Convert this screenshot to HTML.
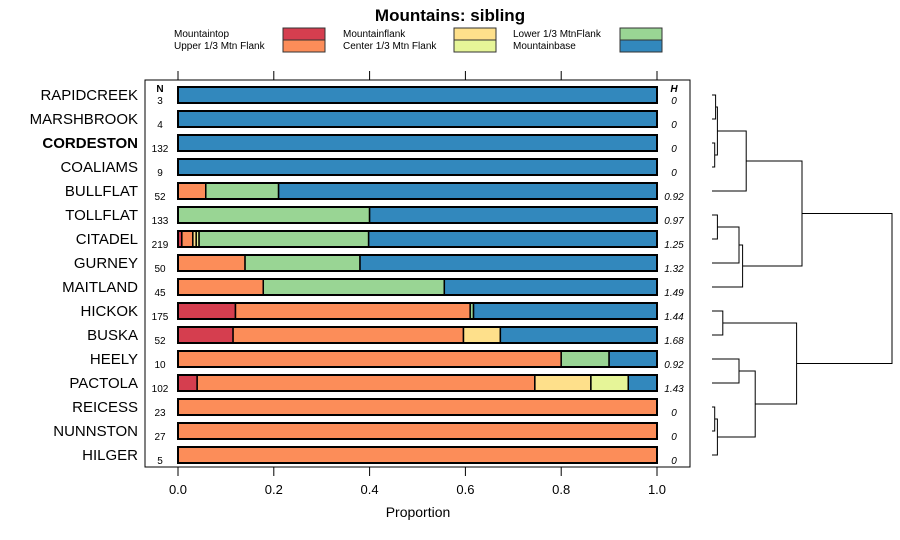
<!DOCTYPE html>
<html><head><meta charset="utf-8"><style>
body{margin:0;background:#fff}
svg{display:block;font-family:"Liberation Sans",sans-serif}
</style></head><body>
<svg id="chart" width="900" height="540" viewBox="0 0 900 540">
<text x="450" y="21" text-anchor="middle" font-size="17" font-weight="bold">Mountains: sibling</text>
<g id="legend"></g>
<rect x="145" y="80" width="545" height="387" fill="none" stroke="#000"/>
<g id="axis"></g>
<g id="bars"></g>
<g id="dendro" stroke="#000" fill="none" stroke-width="1"></g>
<text x="418" y="517" text-anchor="middle" font-size="14">Proportion</text>
<text x="160" y="92" text-anchor="middle" font-size="10" font-weight="bold">N</text>
<text x="674" y="92" text-anchor="middle" font-size="10" font-weight="bold" font-style="italic">H</text>
</svg>
<script>
const categories=["RAPIDCREEK","MARSHBROOK","CORDESTON","COALIAMS","BULLFLAT","TOLLFLAT","CITADEL","GURNEY","MAITLAND","HICKOK","BUSKA","HEELY","PACTOLA","REICESS","NUNNSTON","HILGER"];
const nValues=[3,4,132,9,52,133,219,50,45,175,52,10,102,23,27,5];
const hValues=["0","0","0","0","0.92","0.97","1.25","1.32","1.49","1.44","1.68","0.92","1.43","0","0","0"];
const seriesNames=["Mountaintop","Upper 1/3 Mtn Flank","Mountainflank","Center 1/3 Mtn Flank","Lower 1/3 MtnFlank","Mountainbase"];
const seriesColors=["#D53E4F","#FC8D59","#FEE08B","#E6F598","#99D594","#3288BD"];
const mountaintop=[0,0,0,0,0,0,0.008,0,0,0.12,0.115,0,0.04,0,0,0];
const upperFlank=[0,0,0,0,0.058,0,0.023,0.14,0.178,0.49,0.481,0.80,0.705,1,1,1];
const mountainflank=[0,0,0,0,0,0,0.007,0,0,0,0.077,0,0.117,0,0,0];
const centerFlank=[0,0,0,0,0,0,0.006,0,0,0,0,0,0.078,0,0,0];
const lowerFlank=[0,0,0,0,0.152,0.40,0.354,0.24,0.378,0.007,0,0.10,0,0,0,0];
const mountainbase=[1,1,1,1,0.79,0.60,0.602,0.62,0.444,0.383,0.327,0.10,0.06,0,0,0];
const series=[mountaintop,upperFlank,mountainflank,centerFlank,lowerFlank,mountainbase];
const ticks=[0,0.2,0.4,0.6,0.8,1.0];
const tickLabels=["0.0","0.2","0.4","0.6","0.8","1.0"];
const merges=[[0,1,0.02],[2,3,0.015],[16,17,0.03],[18,4,0.19],[5,6,0.03],[20,7,0.15],[21,8,0.17],[19,22,0.50],[9,10,0.06],[11,12,0.15],[13,14,0.015],[26,15,0.03],[25,27,0.24],[24,28,0.47],[23,29,1.0]];
const NS="http://www.w3.org/2000/svg";
const x=v=>178+v*479;
const y=i=>95+i*24;
const dx=h=>712+h*180;
function mk(t,a,p){const e=document.createElementNS(NS,t);for(const k in a)e.setAttribute(k,a[k]);p.appendChild(e);return e;}
const legend=document.getElementById('legend');
const lx=[174,343,513],rx=[283,454,620];
seriesNames.forEach((s,i)=>{const c=Math.floor(i/2),r=i%2;
 const t=mk('text',{x:lx[c],y:37+r*12,'font-size':10},legend);t.textContent=s;
 
 
 const re=mk('rect',{x:rx[c],y:28+r*12,width:42,height:12,fill:seriesColors[i],stroke:'#333'},legend);
 
 
});
const axis=document.getElementById('axis');
ticks.forEach((v,i)=>{
 mk('line',{x1:x(v),x2:x(v),y1:71,y2:80,stroke:'#000'},axis);
 mk('line',{x1:x(v),x2:x(v),y1:467,y2:476,stroke:'#000'},axis);
 const t=mk('text',{x:x(v),y:494,'text-anchor':'middle','font-size':13},axis);t.textContent=tickLabels[i];
 
 
});
const bars=document.getElementById('bars');
categories.forEach((c,i)=>{
 const yc=y(i);
 const lab=mk('text',{x:138,y:yc+5,'text-anchor':'end','font-size':15,'font-weight':c==='CORDESTON'?'bold':'normal'},bars);lab.textContent=c;
 
 
 const n=mk('text',{x:160,y:yc+9,'text-anchor':'middle','font-size':10},bars);n.textContent=nValues[i];
 
 
 const h=mk('text',{x:674,y:yc+9,'text-anchor':'middle','font-size':10,'font-style':'italic'},bars);h.textContent=hValues[i];
 
 
 let cum=0;
 series.forEach((s,k)=>{const v=s[i];if(v<=0)return;
  const r=mk('rect',{x:x(cum),y:yc-8,width:x(cum+v)-x(cum),height:16,fill:seriesColors[k],stroke:'#000','stroke-width':1.5},bars);
  
  
  cum+=v;});
 mk('rect',{x:x(0),y:yc-8,width:x(cum)-x(0),height:16,fill:'none',stroke:'#000','stroke-width':2},bars);
});
const dendro=document.getElementById('dendro');
const pos={};categories.forEach((c,i)=>pos[i]={x:712,y:y(i)});
merges.forEach((m,j)=>{const a=pos[m[0]],b=pos[m[1]],hx=dx(m[2]);
 const p=mk('path',{d:`M${a.x},${a.y}H${hx}V${b.y}H${b.x}`},dendro);
 
 
 pos[16+j]={x:hx,y:(a.y+b.y)/2};});
</script>
</body></html>
